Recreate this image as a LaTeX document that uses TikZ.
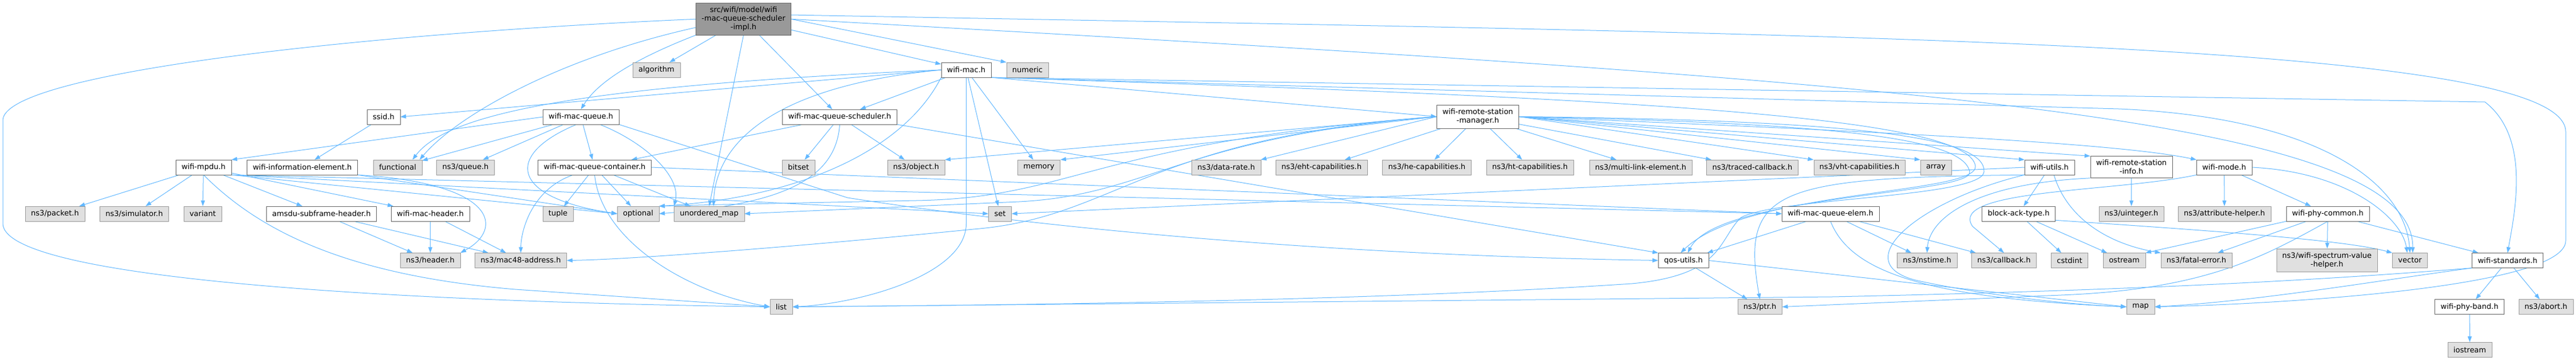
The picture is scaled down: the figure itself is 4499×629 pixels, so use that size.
\documentclass[tikz,border=0pt]{standalone}
\usepackage{fontspec}
\setmainfont{DejaVu Sans}
\usetikzlibrary{arrows.meta,backgrounds}
\definecolor{edgeblue}{HTML}{63B8FF}
\definecolor{topgray}{HTML}{999999}
\definecolor{extgray}{HTML}{E0E0E0}
\begin{document}
\begin{tikzpicture}[x=1pt,y=-1pt,
  every node/.style={font=\fontsize{13}{15}\selectfont, align=center, inner xsep=10pt, inner ysep=6.5pt, minimum height=26pt},
  loc/.style={draw=black!60, fill=white},
  ext/.style={draw=black!40, fill=extgray},
  dep/.style={edgeblue, line width=1pt, -{Triangle[length=10pt,width=7pt]}}]
\useasboundingbox (0,0) rectangle (4499,629);
\node[draw=black!60, fill=topgray] (fid0) at (1298.5,33.3){src/wifi/model/wifi\\-mac-queue-scheduler\\-impl.h};
\node[ext] (fid1) at (1146.5,122){algorithm};
\node[loc] (fid2) at (1687.5,122){wifi-mac.h};
\node[ext] (fid3) at (1794.5,122){numeric};
\node[loc] (fid4) at (670,204){ssid.h};
\node[loc] (fid5) at (1014.5,204){wifi-mac-queue.h};
\node[loc] (fid6) at (1466.5,204){wifi-mac-queue-scheduler.h};
\node[loc] (fid7) at (2581,203.5){wifi-remote-station\\-manager.h};
\node[loc] (fid8) at (355.5,292){wifi-mpdu.h};
\node[loc] (fid9) at (528,292){wifi-information-element.h};
\node[ext] (fid10) at (694.5,292){functional};
\node[ext] (fid11) at (813,292){ns3/queue.h};
\node[loc] (fid12) at (1038.5,292){wifi-mac-queue-container.h};
\node[ext] (fid13) at (1394.5,292){bitset};
\node[ext] (fid14) at (1600,292){ns3/object.h};
\node[ext] (fid15) at (1814.5,292){memory};
\node[ext] (fid16) at (2141.5,292){ns3/data-rate.h};
\node[ext] (fid17) at (2308,292){ns3/eht-capabilities.h};
\node[ext] (fid18) at (2492,292){ns3/he-capabilities.h};
\node[ext] (fid19) at (2672,292){ns3/ht-capabilities.h};
\node[ext] (fid20) at (2865.5,292){ns3/multi-link-element.h};
\node[ext] (fid21) at (3060.5,292){ns3/traced-callback.h};
\node[ext] (fid22) at (3247.5,292){ns3/vht-capabilities.h};
\node[ext] (fid23) at (3381,292){array};
\node[loc] (fid24) at (3579.5,292){wifi-utils.h};
\node[loc] (fid25) at (3722.5,291.6){wifi-remote-station\\-info.h};
\node[loc] (fid26) at (3884.5,292){wifi-mode.h};
\node[ext] (fid27) at (96,373){ns3/packet.h};
\node[ext] (fid28) at (234.5,373){ns3/simulator.h};
\node[ext] (fid29) at (354,373){variant};
\node[loc] (fid30) at (561.5,373){amsdu-subframe-header.h};
\node[loc] (fid31) at (751.5,373){wifi-mac-header.h};
\node[ext] (fid32) at (974.5,373){tuple};
\node[ext] (fid33) at (1114.5,373){optional};
\node[ext] (fid34) at (1238.5,373){unordered\_map};
\node[ext] (fid35) at (1746.5,373){set};
\node[loc] (fid36) at (3197,373){wifi-mac-queue-elem.h};
\node[loc] (fid37) at (3525.5,373){block-ack-type.h};
\node[ext] (fid38) at (3722.5,373){ns3/uinteger.h};
\node[ext] (fid39) at (3885,373){ns3/attribute-helper.h};
\node[loc] (fid40) at (4065.5,373){wifi-phy-common.h};
\node[ext] (fid41) at (751.5,454.5){ns3/header.h};
\node[ext] (fid42) at (909.5,454.5){ns3/mac48-address.h};
\node[loc] (fid43) at (2940,454.5){qos-utils.h};
\node[ext] (fid44) at (3365.5,454.5){ns3/nstime.h};
\node[ext] (fid45) at (3500,454.5){ns3/callback.h};
\node[ext] (fid46) at (3614.5,454.5){cstdint};
\node[ext] (fid47) at (3710,454.5){ostream};
\node[ext] (fid48) at (3836,454.5){ns3/fatal-error.h};
\node[ext] (fid49) at (4064,454.2){ns3/wifi-spectrum-value\\-helper.h};
\node[ext] (fid50) at (4209,454.5){vector};
\node[loc] (fid51) at (4379.5,454.5){wifi-standards.h};
\node[ext] (fid52) at (1364.5,535.5){list};
\node[ext] (fid53) at (3073.5,535.5){ns3/ptr.h};
\node[ext] (fid54) at (3738.5,535.5){map};
\node[loc] (fid55) at (4313,535.5){wifi-phy-band.h};
\node[ext] (fid56) at (4446.5,535.5){ns3/abort.h};
\node[ext] (fid57) at (4313.5,610.3){iostream};
\begin{scope}[on background layer]
\draw[dep](fid0) -- (fid1);
\draw[dep](fid0.south west) .. controls (1090,110) and (1040,150) .. (fid5.north);
\draw[dep](fid0.190) .. controls (980,100) and (800,200) .. (fid10.19);
\draw[dep](fid0.west) .. controls (600,60) and (5,130) .. (5,210) -- (5,390) .. controls (5,480) and (600,525) .. (fid52.west);
\draw[dep](fid0.south) -- (fid34.north);
\draw[dep](fid0) -- (fid6);
\draw[dep](fid0) -- (fid2);
\draw[dep](fid0.east) -- (fid3.north west);
\draw[dep](fid0.east) .. controls (3300,140) and (4215,200) .. (fid50.70);
\draw[dep](fid0.5) .. controls (3200,60) and (4481,70) .. (4481,230) -- (4481,420) .. controls (4481,500) and (4000,530) .. (fid54.east);
\draw[dep](fid2.west) -- (fid4.east);
\draw[dep](fid2.west) .. controls (1000,150) and (780,200) .. (fid10.27);
\draw[dep](fid2) -- (fid6);
\draw[dep](fid2.west) .. controls (1350,150) and (1250,250) .. (fid34.60);
\draw[dep](fid2.south west) .. controls (1580,260) and (1400,345) .. (fid33.north east);
\draw[dep](fid2.south) -- (1687.5,390) .. controls (1687.5,480) and (1500,530) .. (fid52.east);
\draw[dep](fid2) -- (fid35);
\draw[dep](fid2) -- (fid15);
\draw[dep](fid2.south east) -- (fid7.west);
\draw[dep](fid2.south east) -- (4340,178) .. controls (4420,240) and (4392,370) .. (fid51.north);
\draw[dep](fid2.south east) -- (3700,190) .. controls (4050,205) and (4200,320) .. (fid50.north);
\draw[dep](fid2.south east) .. controls (2800,170) and (3440,200) .. (3450,290) .. controls (3455,340) and (3050,330) .. (fid43.110);
\draw[dep](fid7.west) -- (fid14.north east);
\draw[dep](fid7.west) -- (fid15.north east);
\draw[dep](fid7.west) .. controls (1900,250) and (1880,345) .. (1600,350) .. controls (1400,354) and (1250,357) .. (fid33.north east);
\draw[dep](fid7.west) .. controls (2060,240) and (2010,340) .. (1780,352) -- (fid34.east);
\draw[dep](fid7.west) .. controls (2000,240) and (1950,380) .. (1700,400) .. controls (1400,430) and (1100,453) .. (fid42.east);
\draw[dep](fid7.west) -- (fid16.north east);
\draw[dep](fid7) -- (fid17);
\draw[dep](fid7) -- (fid18);
\draw[dep](fid7) -- (fid19);
\draw[dep](fid7) -- (fid20);
\draw[dep](fid7) -- (fid21);
\draw[dep](fid7.east) -- (fid22.north west);
\draw[dep](fid7.east) -- (fid23.north west);
\draw[dep](fid7.east) -- (fid24.north west);
\draw[dep](fid7.east) -- (fid25.north west);
\draw[dep](fid7.east) .. controls (3300,230) and (3700,250) .. (fid26.north west);
\draw[dep](fid7.east) .. controls (3200,215) and (3430,240) .. (3440,300) .. controls (3445,340) and (3000,340) .. (fid43.60);
\draw[dep](fid7.east) .. controls (3250,210) and (3470,240) .. (3465,300) .. controls (3460,345) and (3100,345) .. (3040,380) .. controls (3000,420) and (3010,480) .. (2850,495) .. controls (2400,525) and (1800,532) .. (fid52.east);
\draw[dep](fid25) -- (fid38);
\draw[dep](fid25.south west) .. controls (3450,320) and (3370,380) .. (fid44.north);
\draw[dep](fid24) -- (fid37);
\draw[dep](fid24.-60) .. controls (3610,380) and (3680,425) .. (fid48.north west);
\draw[dep](fid24.south west) .. controls (3100,310) and (3040,330) .. (fid53.north);
\draw[dep](fid24.south west) .. controls (3350,350) and (3220,460) .. (3350,490) .. controls (3500,522) and (3650,533) .. (fid54.west);
\draw[dep](fid24.west) -- (fid35.east);
\draw[dep](fid37) -- (fid46);
\draw[dep](fid37) -- (fid47);
\draw[dep](fid37.-10) .. controls (3900,405) and (4100,420) .. (fid50.north west);
\draw[dep](fid26) -- (fid39);
\draw[dep](fid26) -- (fid40);
\draw[dep](fid26.east) .. controls (4100,300) and (4195,380) .. (fid50.110);
\draw[dep](fid26.south west) .. controls (3700,335) and (3400,330) .. (3445,395) -- (fid45.north);
\draw[dep](fid40) -- (fid51);
\draw[dep](fid40) -- (fid48);
\draw[dep](fid40) -- (fid49);
\draw[dep](fid40.south west) -- (fid47.north east);
\draw[dep](fid40.south) .. controls (3950,450) and (3850,505) .. (3600,515) -- (fid53.east);
\draw[dep](fid51) -- (fid55);
\draw[dep](fid51) -- (fid56);
\draw[dep](fid51.south west) .. controls (4150,490) and (3950,525) .. (fid54.east);
\draw[dep](fid51.south west) .. controls (4100,485) and (3800,505) .. (3200,518) -- (fid52.east);
\draw[dep](fid55) -- (fid57);
\draw[dep](fid36) -- (fid43);
\draw[dep](fid36) -- (fid44);
\draw[dep](fid36) -- (fid45);
\draw[dep](fid36.south) .. controls (3230,470) and (3350,520) .. (fid54.west);
\draw[dep](fid43) -- (fid53);
\draw[dep](fid43.east) -- (fid54.west);
\draw[dep](fid5.west) -- (fid8.north east);
\draw[dep](fid5) -- (fid10);
\draw[dep](fid5) -- (fid11);
\draw[dep](fid5.240) .. controls (880,270) and (890,345) .. (fid33.west);
\draw[dep](fid5) -- (fid12);
\draw[dep](fid5) .. controls (1130,250) and (1190,310) .. (fid34.north west);
\draw[dep](fid5.south east) -- (1480,345) .. controls (1800,395) and (2300,445) .. (fid43.west);
\draw[dep](fid12) .. controls (930,330) and (910,400) .. (fid42.north);
\draw[dep](fid12) -- (fid32);
\draw[dep](fid12.south) .. controls (1050,420) and (1200,510) .. (fid52.west);
\draw[dep](fid12) -- (fid33);
\draw[dep](fid12) -- (fid34);
\draw[dep](fid12.east) -- (fid36.west);
\draw[dep](fid6) -- (fid12);
\draw[dep](fid6) -- (fid13);
\draw[dep](fid6) -- (fid14);
\draw[dep](fid6.south) .. controls (1460,320) and (1350,357) .. (fid33.east);
\draw[dep](fid6.south east) -- (fid43.north west);
\draw[dep](fid8) -- (fid27);
\draw[dep](fid8) -- (fid28);
\draw[dep](fid8) -- (fid29);
\draw[dep](fid8.south) .. controls (450,400) and (600,480) .. (900,505) -- (fid52.west);
\draw[dep](fid8) -- (fid30);
\draw[dep](fid8) -- (fid31);
\draw[dep](fid8.south east) -- (fid36.west);
\draw[dep](fid8.south east) -- (fid33.west);
\draw[dep](fid8.south east) -- (fid35.west);
\draw[dep](fid9.south east) .. controls (870,320) and (880,400) .. (fid41.north east);
\draw[dep](fid9.south east) -- (fid33.west);
\draw[dep](fid4) -- (fid9);
\draw[dep](fid30) -- (fid41);
\draw[dep](fid30) -- (fid42);
\draw[dep](fid31) -- (fid41);
\draw[dep](fid31) -- (fid42);
\end{scope}
\end{tikzpicture}
\end{document}
